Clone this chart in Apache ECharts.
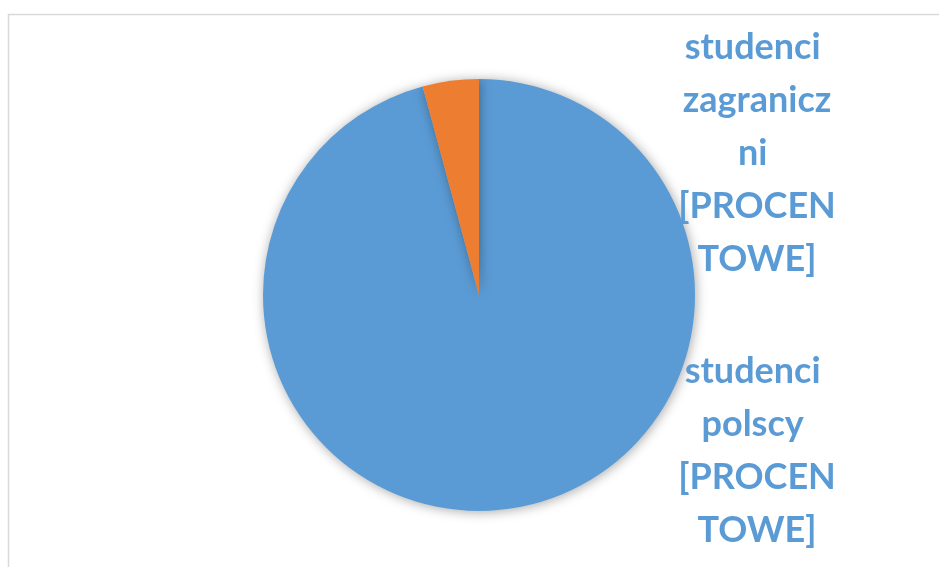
<!DOCTYPE html>
<html>
<head>
<meta charset="utf-8">
<style>
html, body { margin: 0; padding: 0; background: #fff; }
#chart { width: 939px; height: 567px; }
</style>
<script src="https://cdn.jsdelivr.net/npm/echarts@6/dist/echarts.min.js"></script>
</head>
<body>
<div id="chart"></div>
<script>
// dane
var categories = ['studenci polscy', 'studenci zagraniczni'];
var values = [95.8, 4.2];
var colors = ['#5b9bd5', '#ed7d31'];

var myChart = echarts.init(document.getElementById('chart'));

var data = categories.map(function (name, i) {
	return { name: name, value: values[i], itemStyle: { color: colors[i] } };
});

var option = {
	animation: false,
	graphic: [{
		type: 'rect',
		shape: { x: 8.5, y: 14.5, width: 960, height: 600 },
		style: { fill: 'none', stroke: '#d9d9d9', lineWidth: 1.5 },
		silent: true
	}],
	series: [{
		type: 'pie',
		center: [479, 295],
		radius: [0, 216],
		startAngle: 90,
		clockwise: true,
		data: data,
		itemStyle: {
			shadowBlur: 12,
			shadowColor: 'rgba(0,0,0,0.35)',
			shadowOffsetX: 1,
			shadowOffsetY: 1
		},
		label: {
			show: true,
			formatter: '{b} [PROCENTOWE]',
			color: '#5b9bd5',
			fontFamily: 'Lato',
			fontWeight: 'bold',
			fontSize: 36,
			lineHeight: 53,
			width: 162,
			overflow: 'break',
			align: 'center'
		},
		labelLine: { show: false },
		labelLayout: function (params) {
			if (params.dataIndex === 0) {
				return { x: 757, y: 451, align: 'center', verticalAlign: 'middle' };
			}
			return { x: 757, y: 153, align: 'center', verticalAlign: 'middle' };
		}
	}]
};

myChart.setOption(option);
</script>
</body>
</html>
